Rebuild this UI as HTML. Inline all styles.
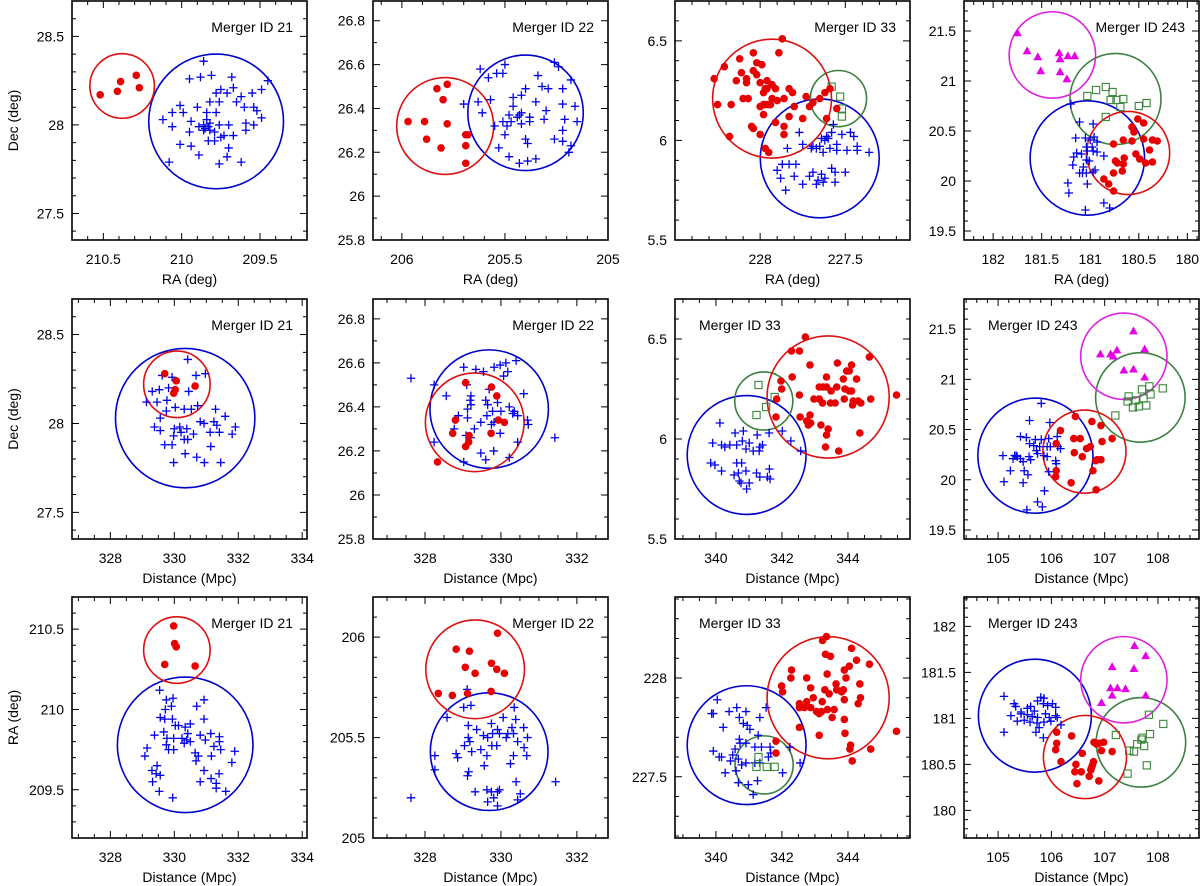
<!DOCTYPE html>
<html><head><meta charset="utf-8"><title>Merger panels</title>
<style>
html,body{margin:0;padding:0;background:#fff;}
svg{display:block;font-family:"Liberation Sans",Arial,sans-serif;}
</style></head>
<body>
<svg id="fig" width="1200" height="886" viewBox="0 0 1200 886" xmlns="http://www.w3.org/2000/svg"></svg>
<script>
// ---------- Merger 21 ----------
const m21_radec_red=[[210.52,28.17],[210.41,28.19],[210.39,28.245],[210.29,28.28],[210.27,28.21]];
const m21_radec_blue=[[209.86,28.36],[209.95,28.26],[209.88,28.27],[209.81,28.28],[209.68,28.27],[209.45,28.25],[209.49,28.20],[209.55,28.18],[209.62,28.16],[209.65,28.13],[209.75,28.20],[209.71,28.18],[209.78,28.18],[209.76,28.13],[209.82,28.13],[209.90,28.10],[210.01,28.11],[209.99,28.07],[210.06,28.07],[210.12,28.03],[210.06,27.99],[209.94,28.02],[209.89,27.99],[209.84,28.03],[209.83,27.99],[209.85,27.98],[209.86,27.97],[209.82,27.97],[209.79,27.96],[209.76,28.00],[209.70,28.00],[209.67,27.94],[209.73,27.94],[209.75,27.93],[209.79,27.91],[209.83,27.91],[210.01,27.89],[209.94,27.88],[209.89,27.83],[209.70,27.87],[209.71,27.82],[209.76,27.78],[210.08,27.79],[209.62,27.79],[209.95,27.96],[209.59,27.97],[209.59,28.01],[209.54,28.00],[209.49,28.04],[209.52,28.08],[209.54,28.10],[209.60,28.10],[209.67,28.21],[209.78,28.07],[209.84,28.07],[209.86,28.00],[209.82,28.01]];
const m21_distdec_red=[[329.70,28.28],[330.06,28.24],[330.03,28.19],[329.98,28.17],[330.65,28.21]];
const m21_distdec_blue=[[330.42,28.36],[329.62,28.27],[329.93,28.26],[330.68,28.27],[330.97,28.28],[329.31,28.18],[329.53,28.19],[329.82,28.20],[330.45,28.18],[329.13,28.12],[329.46,28.12],[329.77,28.13],[329.75,28.07],[330.03,28.09],[330.31,28.08],[330.53,28.08],[330.73,28.10],[331.29,28.08],[331.59,28.04],[329.56,28.03],[329.38,27.98],[329.56,27.96],[330.00,27.97],[330.17,27.98],[330.21,27.95],[329.98,27.93],[330.39,27.97],[330.60,27.94],[330.31,27.91],[330.42,27.91],[330.81,28.01],[330.93,28.00],[331.24,28.01],[331.33,27.99],[331.12,27.95],[331.41,27.95],[331.91,27.98],[331.81,27.94],[329.70,27.88],[329.93,27.88],[331.14,27.87],[330.34,27.83],[330.70,27.81],[330.94,27.78],[331.45,27.78],[329.98,27.78]];
const m21_distra_red=[[329.98,210.52],[330.01,210.41],[330.06,210.39],[329.70,210.28],[330.65,210.27]];
const m21_distra_blue=[[329.54,210.12],[329.75,210.06],[329.96,210.07],[329.91,210.02],[329.72,210.00],[330.70,210.02],[330.93,210.06],[330.93,209.94],[329.56,209.95],[329.70,209.94],[329.94,209.94],[330.03,209.90],[330.13,209.90],[330.34,209.89],[330.50,209.91],[329.67,209.86],[329.38,209.84],[329.77,209.82],[329.98,209.82],[330.24,209.82],[330.39,209.81],[330.42,209.85],[330.81,209.84],[330.97,209.81],[331.14,209.85],[331.41,209.83],[331.41,209.80],[329.75,209.78],[329.82,209.75],[329.98,209.75],[329.15,209.76],[329.08,209.71],[330.31,209.79],[330.50,209.80],[330.65,209.73],[330.75,209.71],[330.68,209.68],[331.16,209.71],[331.24,209.77],[331.45,209.75],[331.89,209.74],[331.80,209.67],[329.46,209.65],[329.30,209.62],[329.43,209.60],[329.56,209.59],[329.32,209.55],[330.93,209.62],[330.81,209.55],[331.15,209.57],[331.31,209.54],[331.31,209.51],[331.40,209.60],[331.61,209.49],[329.53,209.49],[329.95,209.45]];
// ---------- Merger 22 ----------
const m22_radec_red=[[205.97,26.34],[205.89,26.34],[205.78,26.33],[205.83,26.49],[205.78,26.51],[205.80,26.44],[205.88,26.26],[205.81,26.22],[205.69,26.28],[205.68,26.28],[205.69,26.23],[205.69,26.15]];
const m22_radec_blue=[[205.62,26.58],[205.50,26.60],[205.54,26.56],[205.51,26.56],[205.58,26.54],[205.26,26.61],[205.24,26.59],[205.18,26.53],[205.34,26.55],[205.40,26.49],[205.32,26.50],[205.29,26.49],[205.22,26.49],[205.46,26.45],[205.42,26.46],[205.57,26.44],[205.63,26.43],[205.70,26.42],[205.61,26.38],[205.46,26.41],[205.35,26.43],[205.30,26.39],[205.22,26.42],[205.16,26.41],[205.21,26.35],[205.15,26.34],[205.42,26.38],[205.43,26.37],[205.44,26.36],[205.38,26.36],[205.48,26.37],[205.51,26.34],[205.47,26.34],[205.55,26.32],[205.49,26.32],[205.42,26.33],[205.38,26.34],[205.31,26.35],[205.50,26.28],[205.53,26.22],[205.40,26.26],[205.39,26.24],[205.26,26.26],[205.22,26.25],[205.22,26.30],[205.18,26.23],[205.19,26.20],[205.48,26.18],[205.43,26.15],[205.39,26.16],[205.35,26.17]];
const m22_distdec_red=[[328.33,26.15],[328.73,26.28],[328.80,26.34],[329.07,26.51],[329.75,26.49],[329.89,26.45],[329.93,26.34],[330.09,26.33],[329.74,26.28],[329.16,26.27],[329.15,26.24],[329.07,26.22]];
const m22_distdec_blue=[[327.63,26.53],[328.24,26.50],[328.56,26.45],[328.24,26.24],[329.02,26.58],[329.34,26.57],[329.54,26.56],[329.82,26.58],[329.98,26.59],[330.13,26.60],[330.18,26.56],[330.07,26.54],[330.40,26.61],[329.10,26.50],[329.21,26.45],[329.19,26.43],[329.12,26.39],[328.88,26.36],[329.12,26.35],[329.30,26.30],[329.47,26.33],[329.60,26.43],[329.65,26.41],[329.63,26.36],[329.78,26.38],[329.82,26.33],[329.75,26.32],[329.91,26.42],[330.00,26.38],[330.22,26.40],[330.35,26.38],[330.31,26.37],[330.44,26.36],[330.60,26.46],[330.70,26.34],[330.72,26.32],[330.44,26.24],[330.22,26.17],[329.98,26.28],[329.81,26.20],[329.47,26.19],[329.60,26.16],[329.02,26.15],[329.21,26.26],[329.08,26.27],[331.42,26.26],[329.69,26.48],[328.77,26.30],[329.21,26.41]];
const m22_distra_red=[[329.91,206.02],[328.82,205.94],[329.17,205.93],[329.75,205.87],[329.06,205.85],[329.32,205.82],[329.89,205.84],[330.09,205.82],[328.35,205.72],[328.72,205.71],[329.12,205.72],[329.74,205.73]];
const m22_distra_blue=[[329.11,205.74],[329.02,205.65],[329.21,205.66],[328.58,205.60],[329.75,205.57],[329.14,205.56],[329.36,205.54],[329.91,205.54],[329.14,205.50],[329.18,205.48],[329.54,205.51],[329.65,205.50],[329.78,205.52],[329.96,205.52],[330.18,205.52],[330.33,205.52],[330.60,205.55],[330.70,205.50],[330.44,205.48],[330.14,205.50],[329.89,205.46],[329.76,205.46],[329.63,205.41],[329.04,205.46],[329.23,205.43],[329.47,205.44],[328.82,205.42],[328.86,205.40],[328.26,205.41],[328.26,205.34],[329.15,205.33],[329.12,205.31],[329.56,205.36],[330.25,205.37],[330.33,205.41],[330.68,205.41],[330.61,205.45],[330.40,205.28],[331.44,205.28],[330.51,205.22],[330.44,205.19],[329.32,205.23],[329.63,205.24],[329.75,205.23],[329.91,205.23],[329.96,205.24],[329.81,205.20],[329.65,205.18],[329.91,205.16],[327.63,205.20],[330.29,205.55],[330.39,205.59],[330.06,205.60],[330.35,205.65]];
// ---------- Merger 33 ----------
const m33_radec_red=[[228.27,6.31],[228.25,6.18],[228.21,6.37],[228.17,6.18],[228.18,6.02],[228.14,6.30],[228.12,6.41],[228.11,6.34],[228.08,6.31],[228.08,6.29],[228.07,6.21],[228.05,6.07],[228.04,6.06],[228.04,6.44],[228.04,6.35],[228.02,6.39],[227.99,6.38],[228.00,6.29],[228.00,6.17],[228.00,6.03],[227.98,6.18],[227.98,6.24],[227.97,6.26],[227.96,6.30],[227.97,6.18],[227.95,6.18],[227.96,6.26],[227.93,6.21],[227.93,6.28],[227.91,6.26],[227.89,6.44],[227.87,6.51],[227.91,6.09],[227.90,6.20],[227.86,6.21],[227.86,6.03],[227.86,6.07],[227.83,6.26],[227.81,6.24],[227.83,6.12],[227.80,6.17],[227.75,6.11],[227.73,6.22],[227.71,6.17],[227.69,6.19],[227.65,6.21],[227.61,6.11],[227.62,6.24],[227.59,6.26],[227.55,6.16],[227.95,5.94],[227.97,5.96],[227.98,6.13],[227.94,6.18],[228.02,6.33],[228.10,6.21]];
const m33_radec_green=[[227.58,6.27],[227.53,6.22],[227.52,6.16],[227.52,6.12]];
const m33_radec_blue=[[227.77,6.04],[227.84,5.96],[227.75,5.98],[227.90,5.85],[227.87,5.88],[227.83,5.88],[227.79,5.88],[227.88,5.81],[227.80,5.82],[227.85,5.75],[227.75,5.78],[227.71,5.82],[227.69,5.84],[227.67,5.78],[227.66,5.80],[227.64,5.83],[227.63,5.79],[227.62,5.81],[227.58,5.86],[227.56,5.84],[227.56,5.79],[227.50,5.84],[227.70,5.96],[227.69,5.97],[227.67,5.96],[227.65,5.97],[227.64,6.01],[227.62,6.00],[227.61,6.02],[227.60,6.01],[227.58,6.04],[227.57,6.08],[227.55,5.98],[227.55,5.95],[227.52,6.03],[227.49,5.95],[227.47,6.04],[227.45,6.02],[227.43,5.97],[227.43,5.95],[227.36,5.94],[227.63,5.94],[227.59,5.96]];
const m33_distdec_red=[[342.71,6.51],[342.29,6.44],[342.53,6.44],[344.65,6.41],[342.85,6.37],[343.68,6.38],[344.11,6.37],[343.96,6.34],[344.04,6.34],[342.31,6.31],[343.35,6.31],[343.86,6.30],[344.26,6.30],[341.97,6.29],[341.99,6.25],[343.13,6.26],[343.25,6.26],[343.35,6.26],[343.66,6.26],[343.91,6.25],[344.04,6.24],[344.11,6.24],[342.53,6.22],[342.97,6.20],[343.13,6.20],[343.23,6.18],[343.47,6.18],[343.61,6.18],[343.89,6.20],[344.14,6.17],[344.31,6.19],[344.39,6.18],[344.69,6.20],[345.47,6.22],[343.49,6.24],[344.16,6.19],[341.84,6.20],[341.82,6.11],[342.55,6.11],[342.85,6.12],[342.75,6.09],[342.80,6.07],[342.87,6.08],[343.18,6.07],[343.40,6.05],[343.35,6.02],[344.36,6.03],[343.32,5.96],[343.72,5.94]];
const m33_distdec_green=[[341.29,6.27],[341.78,6.21],[341.52,6.16],[341.23,6.12]];
const m33_distdec_blue=[[340.12,6.08],[340.58,6.03],[340.83,6.04],[341.25,6.02],[341.61,6.03],[342.01,6.04],[342.27,5.99],[342.57,5.94],[339.90,5.98],[340.17,5.97],[340.27,5.96],[340.42,5.97],[340.63,5.97],[340.80,5.99],[341.01,5.98],[340.91,5.95],[341.13,5.94],[341.33,5.96],[341.41,5.97],[341.31,5.94],[339.84,5.88],[339.97,5.87],[340.17,5.84],[340.63,5.88],[340.78,5.88],[340.68,5.83],[340.55,5.82],[340.71,5.79],[340.76,5.78],[340.91,5.84],[341.01,5.78],[340.93,5.75],[341.23,5.83],[341.33,5.81],[341.56,5.81],[341.62,5.85],[341.64,5.80]];
const m33_distra_red=[[343.23,228.19],[343.35,228.21],[343.32,228.12],[343.47,228.11],[342.29,228.04],[342.27,228.00],[342.75,228.00],[342.87,227.95],[341.99,227.96],[342.02,227.93],[344.11,228.15],[344.26,228.09],[344.04,228.06],[343.89,228.04],[343.94,228.00],[344.65,228.07],[343.37,228.02],[343.64,227.97],[343.66,227.94],[343.81,227.93],[343.89,227.89],[343.86,227.94],[344.36,227.97],[344.38,227.90],[344.31,227.87],[343.30,227.94],[343.43,227.92],[342.95,227.90],[342.75,227.88],[342.53,227.87],[342.53,227.85],[342.68,227.85],[342.87,227.85],[343.05,227.83],[343.13,227.82],[343.20,227.83],[343.38,227.84],[343.58,227.84],[343.22,227.88],[343.52,227.80],[343.89,227.79],[342.53,227.75],[343.13,227.71],[343.91,227.72],[344.08,227.66],[344.06,227.64],[344.69,227.64],[344.13,227.58],[345.47,227.73],[341.82,227.68],[341.82,227.62]];
const m33_distra_green=[[341.29,227.60],[341.23,227.55],[341.54,227.55],[341.78,227.55]];
const m33_distra_blue=[[340.04,227.89],[339.92,227.82],[339.87,227.82],[340.40,227.83],[340.63,227.85],[340.91,227.83],[340.71,227.80],[340.83,227.77],[340.95,227.76],[341.03,227.74],[341.33,227.80],[341.52,227.85],[340.22,227.75],[341.28,227.71],[340.71,227.69],[340.73,227.67],[340.91,227.67],[341.18,227.65],[341.38,227.65],[341.64,227.65],[341.66,227.62],[340.58,227.64],[340.51,227.61],[339.92,227.63],[340.17,227.60],[340.10,227.60],[340.44,227.58],[340.68,227.59],[340.78,227.56],[340.91,227.57],[341.18,227.57],[341.33,227.57],[341.59,227.60],[340.28,227.52],[340.61,227.53],[340.68,227.47],[340.98,227.46],[341.26,227.48],[341.13,227.41],[342.02,227.52],[342.55,227.57],[342.24,227.65]];
// ---------- Merger 243 ----------
const m243_radec_mag=[[181.75,21.48],[181.65,21.30],[181.54,21.24],[181.51,21.10],[181.32,21.28],[181.31,21.22],[181.23,21.25],[181.16,21.25],[181.31,21.09],[181.24,21.02]];
const m243_radec_green=[[181.03,20.85],[180.94,20.91],[180.84,20.94],[180.77,20.89],[180.79,20.81],[180.73,20.81],[180.66,20.82],[180.69,20.74],[180.50,20.75],[180.42,20.78],[180.84,20.64]];
const m243_radec_red=[[180.76,20.37],[180.74,20.20],[180.76,20.08],[180.86,20.02],[180.81,19.97],[180.76,19.90],[180.67,20.10],[180.65,20.23],[180.66,20.41],[180.57,20.54],[180.57,20.40],[180.55,20.49],[180.51,20.62],[180.45,20.58],[180.49,20.22],[180.53,20.27],[180.45,20.42],[180.43,20.18],[180.39,20.31],[180.36,20.19],[180.31,20.40],[180.36,20.41],[180.66,20.17],[180.72,20.18]];
const m243_radec_blue=[[181.20,20.77],[181.11,20.59],[180.97,20.57],[181.15,20.43],[181.05,20.43],[181.00,20.41],[180.96,20.44],[180.93,20.39],[181.04,20.34],[180.98,20.34],[181.03,20.30],[181.17,20.24],[181.09,20.27],[180.97,20.30],[180.93,20.29],[180.86,20.25],[181.18,20.16],[181.11,20.08],[181.08,20.08],[181.04,20.08],[180.97,20.09],[180.95,20.11],[181.01,20.20],[181.04,20.21],[181.03,19.97],[181.23,19.98],[181.22,19.88],[181.05,19.71],[180.86,19.78],[180.80,19.73],[181.07,20.14],[181.14,20.28]];
const m243_distdec_mag=[[106.92,21.25],[107.11,21.25],[107.16,21.23],[107.23,21.29],[107.54,21.48],[107.75,21.30],[107.36,21.09],[107.54,21.10],[107.75,21.02]];
const m243_distdec_green=[[107.20,20.64],[107.45,20.83],[107.43,20.78],[107.53,20.72],[107.64,20.73],[107.78,20.74],[107.70,20.90],[107.84,20.93],[107.86,20.85],[108.09,20.91],[107.73,20.81],[107.58,20.79]];
const m243_distdec_red=[[106.45,20.63],[106.17,20.49],[106.42,20.41],[106.54,20.41],[106.76,20.58],[106.93,20.54],[106.09,20.36],[106.43,20.27],[106.58,20.23],[106.73,20.33],[106.95,20.38],[107.14,20.41],[106.83,20.19],[106.86,20.20],[106.93,20.20],[106.09,20.09],[106.08,20.03],[106.37,19.97],[106.78,20.09],[106.84,19.90],[106.66,20.31]];
const m243_distdec_blue=[[105.81,20.76],[105.59,20.59],[105.97,20.57],[105.42,20.43],[105.53,20.42],[105.70,20.40],[105.81,20.40],[105.95,20.41],[106.11,20.43],[105.59,20.36],[105.67,20.34],[105.78,20.33],[105.92,20.33],[105.98,20.33],[106.12,20.33],[106.17,20.31],[105.09,20.24],[105.31,20.24],[105.36,20.23],[105.42,20.21],[105.58,20.23],[105.74,20.26],[105.86,20.24],[105.92,20.23],[105.28,20.21],[105.47,20.18],[105.61,20.20],[106.08,20.19],[106.09,20.16],[105.23,20.09],[105.49,20.09],[105.56,20.05],[105.95,20.08],[105.11,19.98],[105.47,19.97],[105.87,19.89],[105.74,19.78],[105.83,19.73],[105.54,19.70],[105.34,20.24],[105.72,20.29]];
const m243_distra_mag=[[107.56,181.79],[107.77,181.68],[107.14,181.56],[107.55,181.54],[107.11,181.33],[107.24,181.33],[107.39,181.32],[107.14,181.25],[106.94,181.17],[107.77,181.25]];
const m243_distra_green=[[107.83,181.04],[108.10,180.94],[107.21,180.82],[107.85,180.83],[107.71,180.79],[107.61,180.72],[107.74,180.70],[107.46,180.65],[107.55,180.64],[107.43,180.40],[107.79,180.49],[107.69,180.77]];
const m243_distra_red=[[106.10,180.85],[106.10,180.73],[106.08,180.66],[106.38,180.81],[106.18,180.53],[106.58,180.62],[106.46,180.50],[106.44,180.42],[106.56,180.42],[106.48,180.29],[106.79,180.53],[106.75,180.46],[106.77,180.49],[106.74,180.44],[106.71,180.37],[106.89,180.32],[106.80,180.74],[106.89,180.73],[106.94,180.65],[107.14,180.64],[106.98,180.74],[106.85,180.72]];
const m243_distra_blue=[[105.11,181.24],[105.30,181.16],[105.33,181.13],[105.55,181.11],[105.61,181.13],[105.74,181.19],[105.80,181.23],[105.86,181.22],[105.85,181.16],[105.93,181.14],[106.02,181.16],[106.08,181.12],[105.24,181.03],[105.43,181.05],[105.55,181.04],[105.64,181.02],[105.74,181.01],[105.89,181.05],[105.96,181.01],[106.08,181.03],[106.11,181.01],[105.36,180.97],[105.49,180.98],[105.60,180.96],[105.73,180.95],[105.77,180.90],[105.86,180.96],[105.99,180.97],[106.18,180.93],[105.11,180.85],[105.71,180.85],[105.85,180.79],[105.43,181.07],[105.68,181.08]];
// ---------- Group circles: [x-centre, y-centre, radius in x-units] ----------
const circ21a={red:[210.38,28.22,0.206],blue:[209.78,28.02,0.43]};
const circ21b={red:[330.08,28.22,1.04],blue:[330.34,28.03,2.18]};
const circ21c={red:[330.08,210.37,1.04],blue:[330.34,209.78,2.12]};
const circ22a={red:[205.79,26.32,0.235],blue:[205.40,26.38,0.28]};
const circ22b={red:[329.31,26.33,1.30],blue:[329.69,26.39,1.56]};
const circ22c={red:[329.32,205.84,1.30],blue:[329.69,205.43,1.55]};
const circ33a={red:[227.93,6.21,0.349],green:[227.54,6.21,0.165],blue:[227.65,5.91,0.349]};
const circ33b={red:[343.40,6.21,1.85],green:[341.45,6.19,0.88],blue:[340.93,5.92,1.80]};
const circ33c={red:[343.40,227.90,1.85],green:[341.46,227.56,0.88],blue:[340.93,227.66,1.80]};
const circ243a={mag:[181.39,21.26,0.445],green:[180.74,20.82,0.469],blue:[181.03,20.23,0.589],red:[180.61,20.28,0.428]};
const circ243b={mag:[107.36,21.23,0.81],green:[107.67,20.82,0.84],blue:[105.70,20.24,1.08],red:[106.62,20.28,0.78]};
const circ243c={mag:[107.36,181.42,0.81],green:[107.68,180.74,0.84],blue:[105.69,181.03,1.06],red:[106.63,180.58,0.78]};
// ---------- Tick labels ----------
const ticksRA21=[210.5,210,209.5], ticksDec21=[27.5,28,28.5], ticksDist21=[328,330,332,334];
const ticksRA22=[206,205.5,205], ticksDec22=[25.8,26,26.2,26.4,26.6,26.8], ticksDist22=[328,330,332];
const ticksRA33=[228,227.5], ticksDec33=[5.5,6,6.5], ticksDist33=[340,342,344];
const ticksRA243=[182,181.5,181,180.5,180], ticksDec243=[19.5,20,20.5,21,21.5], ticksDist243=[105,106,107,108];

const cols=[[72,307],[373,608],[675,910],[964,1199]];
const rows=[[1,240],[299,539],[597,838]];
const COL={blue:'#0000e6',red:'#e60000',green:'#3a873a',mag:'#e600e6'};
const CIRC={blue:'#0000cc',red:'#dd1010',green:'#3d8040',mag:'#dd22dd'};

const panels=[
 {id:'m21-ra-dec',r:0,c:0,x:[210.7,209.2],y:[27.35,28.7],xt:ticksRA21,xm:0.1,yt:ticksDec21,ym:0.1,xl:'RA (deg)',yl:'Dec (deg)',lab:'Merger ID 21',la:'r',s:{blue:m21_radec_blue,red:m21_radec_red},ci:circ21a},
 {id:'m22-ra-dec',r:0,c:1,x:[206.14,205],y:[25.8,26.89],xt:ticksRA22,xm:0.1,yt:ticksDec22,ym:0.1,xl:'RA (deg)',yl:'',lab:'Merger ID 22',la:'r',s:{blue:m22_radec_blue,red:m22_radec_red},ci:circ22a},
 {id:'m33-ra-dec',r:0,c:2,x:[228.5,227.12],y:[5.5,6.7],xt:ticksRA33,xm:0.1,yt:ticksDec33,ym:0.1,xl:'RA (deg)',yl:'',lab:'Merger ID 33',la:'r',s:{blue:m33_radec_blue,green:m33_radec_green,red:m33_radec_red},ci:circ33a},
 {id:'m243-ra-dec',r:0,c:3,x:[182.3,179.88],y:[19.41,21.8],xt:ticksRA243,xm:0.1,yt:ticksDec243,ym:0.1,xl:'RA (deg)',yl:'',lab:'Merger ID 243',la:'r',s:{blue:m243_radec_blue,green:m243_radec_green,red:m243_radec_red,mag:m243_radec_mag},ci:circ243a},
 {id:'m21-dist-dec',r:1,c:0,x:[326.8,334.15],y:[27.35,28.7],xt:ticksDist21,xm:0.5,yt:ticksDec21,ym:0.1,xl:'Distance (Mpc)',yl:'Dec (deg)',lab:'Merger ID 21',la:'r',s:{blue:m21_distdec_blue,red:m21_distdec_red},ci:circ21b},
 {id:'m22-dist-dec',r:1,c:1,x:[326.63,332.82],y:[25.8,26.89],xt:ticksDist22,xm:0.5,yt:ticksDec22,ym:0.1,xl:'Distance (Mpc)',yl:'',lab:'Merger ID 22',la:'r',s:{blue:m22_distdec_blue,red:m22_distdec_red},ci:circ22b},
 {id:'m33-dist-dec',r:1,c:2,x:[338.76,345.88],y:[5.5,6.7],xt:ticksDist33,xm:0.5,yt:ticksDec33,ym:0.1,xl:'Distance (Mpc)',yl:'',lab:'Merger ID 33',la:'l',s:{blue:m33_distdec_blue,green:m33_distdec_green,red:m33_distdec_red},ci:circ33b},
 {id:'m243-dist-dec',r:1,c:3,x:[104.36,108.77],y:[19.41,21.8],xt:ticksDist243,xm:0.2,yt:ticksDec243,ym:0.1,xl:'Distance (Mpc)',yl:'',lab:'Merger ID 243',la:'l',s:{blue:m243_distdec_blue,green:m243_distdec_green,red:m243_distdec_red,mag:m243_distdec_mag},ci:circ243b},
 {id:'m21-dist-ra',r:2,c:0,x:[326.8,334.15],y:[209.2,210.7],xt:ticksDist21,xm:0.5,yt:ticksRA21,ym:0.1,xl:'Distance (Mpc)',yl:'RA (deg)',lab:'Merger ID 21',la:'r',s:{blue:m21_distra_blue,red:m21_distra_red},ci:circ21c},
 {id:'m22-dist-ra',r:2,c:1,x:[326.63,332.82],y:[205,206.2],xt:ticksDist22,xm:0.5,yt:ticksRA22,ym:0.1,xl:'Distance (Mpc)',yl:'',lab:'Merger ID 22',la:'r',s:{blue:m22_distra_blue,red:m22_distra_red},ci:circ22c},
 {id:'m33-dist-ra',r:2,c:2,x:[338.76,345.88],y:[227.19,228.41],xt:ticksDist33,xm:0.5,yt:ticksRA33,ym:0.1,xl:'Distance (Mpc)',yl:'',lab:'Merger ID 33',la:'l',s:{blue:m33_distra_blue,green:m33_distra_green,red:m33_distra_red},ci:circ33c},
 {id:'m243-dist-ra',r:2,c:3,x:[104.36,108.77],y:[179.7,182.32],xt:ticksDist243,xm:0.2,yt:ticksRA243,ym:0.1,xl:'Distance (Mpc)',yl:'',lab:'Merger ID 243',la:'l',s:{blue:m243_distra_blue,green:m243_distra_green,red:m243_distra_red,mag:m243_distra_mag},ci:circ243c}
];

const NS='http://www.w3.org/2000/svg';
const svg=document.getElementById('fig');
function mk(tag,attrs,parent){const e=document.createElementNS(NS,tag);for(const k in attrs)e.setAttribute(k,attrs[k]);parent.appendChild(e);return e;}

panels.forEach(p=>{
  const L=cols[p.c][0],R=cols[p.c][1],T=rows[p.r][0],B=rows[p.r][1];
  const sx=v=>L+(v-p.x[0])/(p.x[1]-p.x[0])*(R-L);
  const sy=v=>B-(v-p.y[0])/(p.y[1]-p.y[0])*(B-T);
  const g=mk('g',{},svg);
  
  
  const cid='clip-'+p.id;
  const cp=mk('clipPath',{id:cid},g);
  mk('rect',{x:L,y:T,width:R-L,height:B-T},cp);
  const cg=mk('g',{'clip-path':'url(#'+cid+')'},g);
  
  
  ['blue','green','red','mag'].forEach(k=>{
    if(!p.ci[k])return;
    const c=p.ci[k];
    const rr=Math.abs(sx(c[0]+c[2])-sx(c[0]));
    const el=mk('circle',{cx:sx(c[0]),cy:sy(c[1]),r:rr,fill:'none',stroke:CIRC[k],'stroke-width':1.6},cg);
    
    
  });
  ['blue','green','red','mag'].forEach(k=>{
    const arr=p.s[k]; if(!arr)return;
    const sg=mk('g',{'clip-path':'url(#'+cid+')'},g);
    
    
    arr.forEach(d=>{
      const x=sx(d[0]),y=sy(d[1]);let el;
      if(k==='blue') el=mk('path',{d:`M${x-4.2},${y}H${x+4.2}M${x},${y-4.2}V${y+4.2}`,stroke:COL.blue,'stroke-width':1.3,fill:'none'},sg);
      else if(k==='red') el=mk('circle',{cx:x,cy:y,r:3.8,fill:COL.red},sg);
      else if(k==='green') el=mk('rect',{x:x-3.6,y:y-3.6,width:7.2,height:7.2,fill:'none',stroke:COL.green,'stroke-width':1.1},sg);
      else el=mk('path',{d:`M${x},${y-4.6}L${x+4.4},${y+3.2}L${x-4.4},${y+3.2}Z`,fill:COL.mag},sg);
      
      
    });
  });
  const tk=mk('g',{stroke:'#000','stroke-width':1},g);
  
  
  let d='';
  const xlo=Math.min(p.x[0],p.x[1]),xhi=Math.max(p.x[0],p.x[1]);
  for(let i=Math.ceil(xlo/p.xm-1e-6);i*p.xm<=xhi+1e-9;i++){const v=i*p.xm;const maj=p.xt.some(t=>Math.abs(t-v)<1e-6);const len=maj?7:4;const x=sx(v);d+=`M${x},${B}v${-len}M${x},${T}v${len}`;}
  for(let i=Math.ceil(p.y[0]/p.ym-1e-6);i*p.ym<=p.y[1]+1e-9;i++){const v=i*p.ym;const maj=p.yt.some(t=>Math.abs(t-v)<1e-6);const len=maj?7:4;const y=sy(v);d+=`M${L},${y}h${len}M${R},${y}h${-len}`;}
  mk('path',{d:d,fill:'none'},tk);
  const fr=mk('rect',{x:L,y:T,width:R-L,height:B-T,fill:'none',stroke:'#000','stroke-width':1.6},g);
  
  
  p.xt.forEach(v=>{const t=mk('text',{x:sx(v),y:B+24,'font-size':14,'text-anchor':'middle',fill:'#000'},g);t.textContent=String(v);
    
    });
  p.yt.forEach(v=>{const t=mk('text',{x:L-8,y:sy(v)+5,'font-size':14,'text-anchor':'end',fill:'#000'},g);t.textContent=String(v);
    
    });
  const xt=mk('text',{x:(L+R)/2,y:B+44,'font-size':14,'text-anchor':'middle',fill:'#000'},g);xt.textContent=p.xl;
  
  
  if(p.yl){const yt=mk('text',{x:0,y:0,'font-size':14,'text-anchor':'middle',fill:'#000',transform:`translate(18,${(T+B)/2}) rotate(-90)`},g);yt.textContent=p.yl;
    
    }
  const lb=mk('text',{x:p.la==='r'?R-14:L+24,y:T+31,'font-size':14,'text-anchor':p.la==='r'?'end':'start',fill:'#000'},g);lb.textContent=p.lab;
  
  
});
</script>
</body></html>
